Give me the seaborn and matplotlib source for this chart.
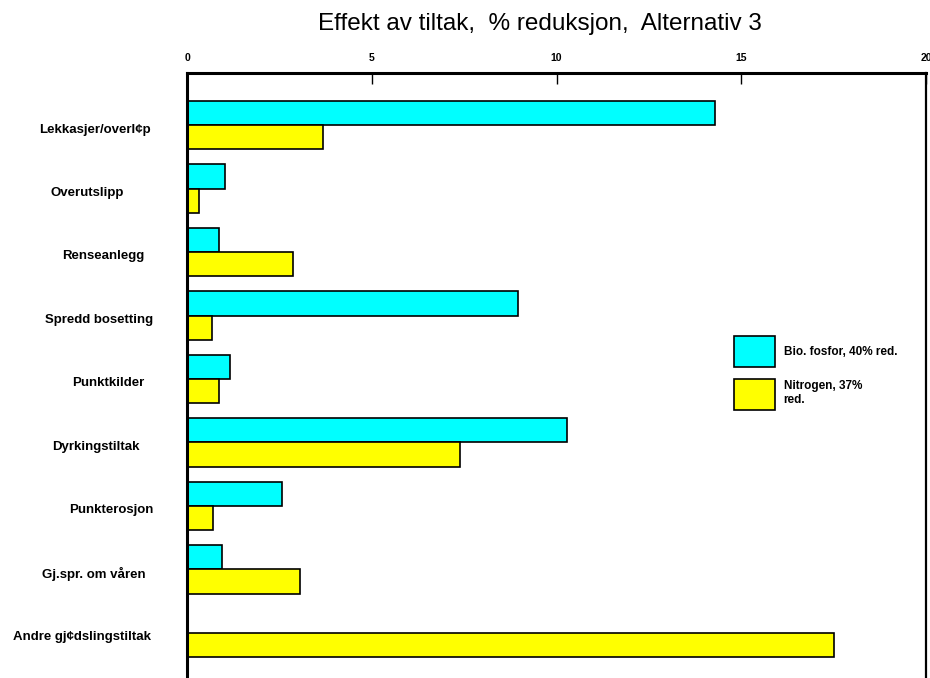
import matplotlib
matplotlib.use("Agg")
import matplotlib.pyplot as plt
import matplotlib.transforms as mtransforms
import pandas as pd
import seaborn as sns

# Measures and their effect (% reduction)
categories = [
    "Lekkasjer/overl¢p",
    "Overutslipp",
    "Renseanlegg",
    "Spredd bosetting",
    "Punktkilder",
    "Dyrkingstiltak",
    "Punkterosjon",
    "Gj.spr. om våren",
    "Andre gj¢dslingstiltak",
]
fosfor = [14.3, 1.02, 0.86, 8.95, 1.17, 10.29, 2.57, 0.94, 0.0]
nitrogen = [3.69, 0.33, 2.87, 0.67, 0.87, 7.40, 0.70, 3.05, 17.52]
series_names = ["Bio. fosfor, 40% red.", "Nitrogen, 37%\nred."]
x_ticks = [0, 5, 10, 15, 20]

sns.set_theme(style="white")
plt.rcParams["font.family"] = ["Liberation Sans", "DejaVu Sans"]
plt.rcParams["text.color"] = "black"
plt.rcParams["xtick.color"] = "black"
plt.rcParams["ytick.color"] = "black"

df = pd.DataFrame({
    "tiltak": categories * 2,
    "reduksjon": fosfor + nitrogen,
    "serie": [series_names[0]] * len(categories) + [series_names[1]] * len(categories),
})

fig = plt.figure(figsize=(9.3, 6.78), dpi=100)
ax = fig.add_axes([187 / 930, 1 - 685 / 678, 739 / 930, 612 / 678])

sns.barplot(
    data=df, y="tiltak", x="reduksjon", hue="serie", orient="h",
    palette=["#00FFFF", "#FFFF00"], saturation=1, edgecolor="black", linewidth=1.2,
    width=0.76, dodge=True, ax=ax, legend=True,
)

ax.set_xlim(0, 20)
ax.set_ylim(len(categories) - 1 + 0.82, -0.82)
ax.set_xlabel("")
ax.set_ylabel("")

# x axis along the top, ticks pointing inward
ax.xaxis.tick_top()
ax.set_xticks(x_ticks)
ax.set_xticklabels([str(t) for t in x_ticks], fontsize=7.5, fontweight="bold")
ax.tick_params(axis="x", direction="in", length=8, width=1, pad=7, top=True, bottom=False)
ax.set_yticks([])

for side in ["top", "left"]:
    ax.spines[side].set_linewidth(2.2)
    ax.spines[side].set_color("black")
ax.spines["right"].set_linewidth(1.6)
ax.spines["right"].set_color("black")
ax.spines["bottom"].set_visible(False)

# Category labels, centred left of the axis
label_x = [95, 87, 103, 99, 108, 96, 111, 94, 82]
trans = mtransforms.blended_transform_factory(fig.transFigure, ax.transData)
for i, (name, lx) in enumerate(zip(categories, label_x)):
    ax.text(lx / 930, i + 0.07, name, transform=trans, ha="center", va="center",
            fontsize=9.5, fontweight="bold", color="black", clip_on=False)

# Legend
handles, labels = ax.get_legend_handles_labels()
ax.legend(
    handles, labels, loc="upper left", bbox_to_anchor=(734 / 930, 1 - 336 / 678),
    bbox_transform=fig.transFigure, frameon=False, borderpad=0, borderaxespad=0,
    handlelength=3.5, handleheight=3.7, labelspacing=0.95, handletextpad=0.7,
    prop={"weight": "bold", "size": 8.5},
)

fig.text(540 / 930, 1 - 24 / 678, "Effekt av tiltak,  % reduksjon,  Alternativ 3",
         ha="center", va="center", fontsize=17.5, color="black")

fig.savefig("out.png", dpi=100)
